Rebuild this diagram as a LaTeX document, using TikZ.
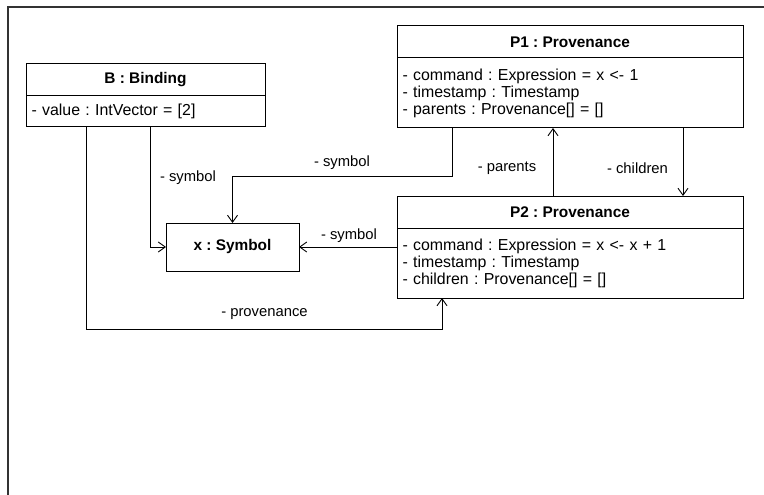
\documentclass[tikz,border=0pt]{standalone}
\usepackage{fontspec}
\setmainfont{Liberation Sans}
\usetikzlibrary{arrows.meta,calc}
\frenchspacing
\begin{document}
\begin{tikzpicture}[x=1pt,y=-1pt,
  every node/.style={inner sep=0pt,outer sep=0pt},
  hdr/.style={draw=black,line width=1pt,anchor=north west,minimum height=32pt,
    font=\fontsize{15.4}{17}\selectfont\bfseries},
  body/.style={draw=black,line width=1pt,anchor=north west,align=left,
    inner xsep=5.5pt,font=\fontsize{15.9}{17}\selectfont},
  lbl/.style={font=\fontsize{14.8}{17}\selectfont},
  assoc/.style={draw=black,line width=0.9pt,-{Straight Barb[length=7pt,width=10pt,line width=0.9pt]}},
  plain/.style={draw=black,line width=0.9pt}]
\useasboundingbox (0,0) rectangle (764,495);
% frame
\draw[line width=1.3pt,black!80] (8,495) -- (8,7) -- (764,7);
% B : Binding
\node[hdr,minimum width=239pt] (Bh) at (26,64) {B : Binding};
\node[body,text width=228pt,minimum height=31pt] (Bb) at (26,96) {- value : IntVector = [2]};
% P1
\node[hdr,minimum width=346pt] (P1h) at (397,26) {P1 : Provenance};
\node[body,text width=335pt,minimum height=70pt] (P1b) at (397,58)
  {- command : Expression = x <- 1\\- timestamp : Timestamp\\- parents : Provenance[] = []};
% P2
\node[hdr,minimum width=346pt] (P2h) at (397,196) {P2 : Provenance};
\node[body,text width=335pt,minimum height=70pt] (P2b) at (397,228)
  {- command : Expression = x <- x + 1\\- timestamp : Timestamp\\- children : Provenance[] = []};
% Symbol
\node[draw=black,line width=1pt,minimum width=133pt,minimum height=48pt,
  font=\fontsize{15.4}{17}\selectfont\bfseries] (sym) at (232.5,247) {x : Symbol};
% connectors
\draw[assoc] ([xshift=124pt]Bb.south west) |- (sym.west);
\draw[assoc] ([xshift=55pt]P1b.south west) -- ([xshift=55pt,yshift=-48pt]P1b.south west) -| (sym.north);
\draw[assoc] (sym.east -| P2b.west) -- (sym.east);
\draw[assoc] ([xshift=60pt]Bb.south west) -- ([xshift=60pt,yshift=-202pt]Bb.south west) -| ([xshift=45pt]P2b.south west);
\draw[assoc] ([xshift=156pt]P2h.north west) -- ([xshift=156pt]P1b.south west);
\draw[assoc] ([xshift=286pt]P1b.south west) -- ([xshift=286pt]P2h.north west);
% labels
\node[lbl] (l1) at (188,178) {- symbol};
\node[lbl] (l2) at (342,163) {- symbol};
\node[lbl] (l3) at (349,236) {- symbol};
\node[lbl] (l4) at (264.5,314) {- provenance};
\node[lbl] (l5) at (507,168) {- parents};
\node[lbl] (l6) at (637.5,168) {- children};
\end{tikzpicture}
\end{document}
